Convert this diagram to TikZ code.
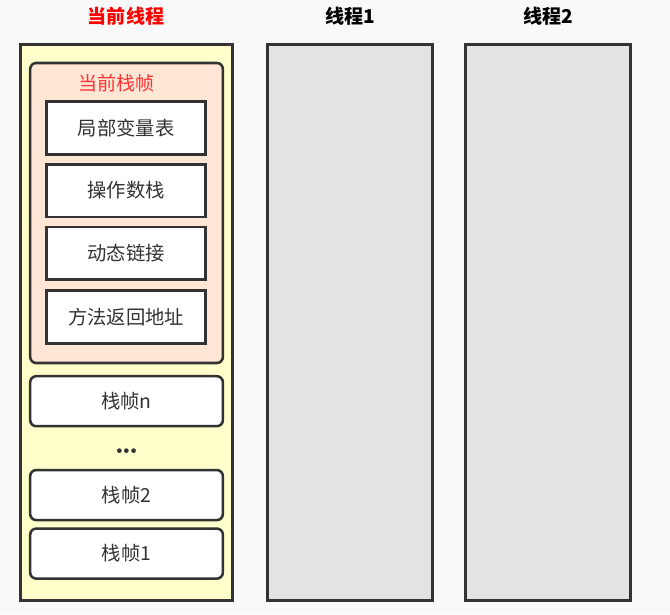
\documentclass[tikz,border=0pt]{standalone}
\usepackage{fontspec}
\setmainfont{Noto Sans CJK SC}
\usepackage{tikz}
\usetikzlibrary{positioning}

\definecolor{bgGray}{HTML}{F9F9F9}
\definecolor{edgeDark}{HTML}{333333}
\definecolor{threadYellow}{HTML}{FFFFCC}
\definecolor{threadGray}{HTML}{E3E3E3}
\definecolor{framePeach}{HTML}{FFE6D5}
\definecolor{titleRed}{HTML}{FF0000}
\definecolor{frameRed}{HTML}{FF3333}

\begin{document}
\begin{tikzpicture}[
    threadBox/.style={rectangle, draw=edgeDark, line width=2.2pt, minimum width=123.8pt, minimum height=417pt, inner sep=0pt},
    curThreadBox/.style={threadBox, fill=threadYellow, minimum width=159pt},
    otherThreadBox/.style={threadBox, fill=threadGray},
    threadTitle/.style={font=\fontsize{14.3pt}{17pt}\selectfont\bfseries, text=black},
    frameBox/.style={rectangle, draw=edgeDark, line width=1.9pt, fill=framePeach, rounded corners=4.5pt, minimum width=144.5pt, minimum height=225pt, inner sep=0pt},
    partBox/.style={rectangle, draw=edgeDark, line width=1.9pt, fill=white, minimum width=119pt, minimum height=39.5pt, inner sep=0pt, font=\fontsize{14.5pt}{17pt}\selectfont, text=edgeDark},
    stackBox/.style={rectangle, draw=edgeDark, line width=1.9pt, fill=white, rounded corners=4.5pt, minimum width=144.5pt, minimum height=37.5pt, inner sep=0pt, font=\fontsize{14.5pt}{17pt}\selectfont, text=edgeDark}
]

% ================= CANVAS =================
\fill[bgGray] (0,0) rectangle (502.5pt,-460.5pt);
\useasboundingbox (0,0) rectangle (502.5pt,-460.5pt);

% ================= THREADS =================
\node[curThreadBox] (curThread) at (94.9pt,-241.9pt) {};
\node[otherThreadBox, right=24pt of curThread] (thread1) {};
\node[otherThreadBox, right=22.5pt of thread1] (thread2) {};

\node[threadTitle, text=titleRed] (curTitle) at (94.5pt,-12.5pt) {当前线程};
\node[threadTitle] (title1) at (thread1 |- curTitle) {线程1};
\node[threadTitle] (title2) at (thread2 |- curTitle) {线程2};

% ================= CURRENT FRAME =================
\node[frameBox, anchor=north] (curFrame) at ([yshift=-14pt]curThread.north) {};
\node[font=\fontsize{14.3pt}{17pt}\selectfont, text=frameRed] (frameTitle) at ([xshift=-7.5pt, yshift=-16pt]curFrame.north) {当前栈帧};

\node[partBox, anchor=north] (locals) at ([xshift=-0.4pt, yshift=-29pt]curFrame.north) {局部变量表};
\node[partBox, below=5.6pt of locals] (operands) {操作数栈};
\node[partBox, below=5.6pt of operands] (dynLink) {动态链接};
\node[partBox, below=6.3pt of dynLink] (retAddr) {方法返回地址};

% ================= OTHER FRAMES =================
\node[stackBox, below=8pt of curFrame] (frameN) {栈帧n};
\node[font=\fontsize{12.5pt}{12.5pt}\selectfont\bfseries, text=edgeDark, inner sep=0pt] (dots) at ([yshift=-19pt]frameN.south) {\textbullet\kern-7.2pt\textbullet\kern-7.2pt\textbullet};
\node[stackBox, anchor=north] (frame2) at ([yshift=-31pt]frameN.south) {栈帧2};
\node[stackBox, below=4.5pt of frame2] (frame1) {栈帧1};

\end{tikzpicture}
\end{document}
